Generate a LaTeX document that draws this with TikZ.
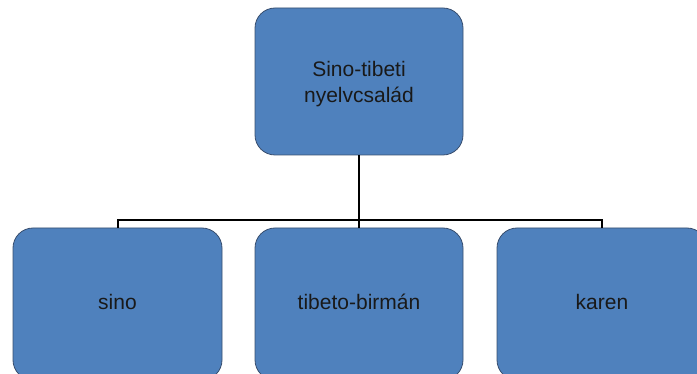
\documentclass[tikz,border=0pt]{standalone}
\usepackage{fontspec}
\setmainfont{Liberation Sans}
\definecolor{boxfill}{RGB}{79,129,189}
\definecolor{boxborder}{RGB}{56,78,110}
\begin{document}
\begin{tikzpicture}[x=1pt,y=-1pt,
  box/.style={draw=boxborder, fill=boxfill, rounded corners=20pt, line width=0.8pt,
    align=center, font=\fontsize{21}{26}\selectfont, inner sep=0pt, text=black!90},
  leaf/.style={box, minimum height=152pt, text height=15pt, text depth=3pt},
  conn/.style={line width=2pt, black}]
\useasboundingbox (0,0) rectangle (697,374);
\node[box, minimum width=208pt, minimum height=147pt] (top) at (359,81.5) {\rule{0pt}{21pt}Sino-tibeti\\nyelvcsalád};
\node[leaf, minimum width=209pt] (sino) at (117.5,304) {sino};
\node[leaf, minimum width=208pt] (tib) at (359,304) {tibeto-birmán};
\node[leaf, minimum width=210pt] (karen) at (602,304) {karen};
\coordinate (j) at (359,220);
\draw[conn] (top.south) -- (j);
\draw[conn] (j) -- (tib.north);
\draw[conn] (sino.north) |- (j) -| (karen.north);
\end{tikzpicture}
\end{document}
